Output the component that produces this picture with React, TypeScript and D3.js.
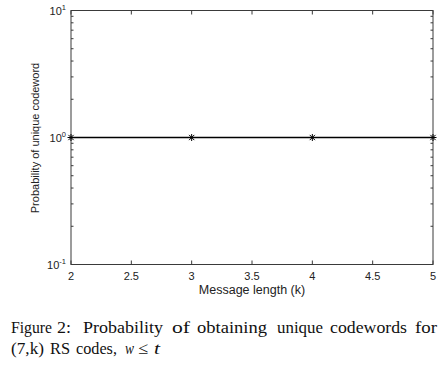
import React from "react";
import * as d3 from "d3";

// data
const messageLengths = [2, 3, 4, 5];
const probUnique = [1, 1, 1, 1];
const xTicks = [2, 2.5, 3, 3.5, 4, 4.5, 5];
const xTickLabels = ["2", "2.5", "3", "3.5", "4", "4.5", "5"];
const yDecades = [0.1, 1, 10];
const yDecadeExp = ["-1", "0", "1"];

// caption words, start x and width as laid out in the figure
const captionWords = ["Figure", "2:", "Probability", "of", "obtaining", "unique", "codewords", "for"];
const captionWordX = [11, 57, 83, 172, 197, 277, 330, 415];
const captionWordW = [41, 14, 80, 18, 70, 46, 77, 22];
const caption2Words = ["(7,k)", "RS", "codes,", "w", "≤", "t"];
const caption2X = [11, 50, 76, 125, 138, 154];
const caption2W = [33, 20, 41, 9, 10, 6];
const caption2Italic = [false, false, false, true, false, true];

const W = 447;
const H = 365;
const left = 71;
const right = 433;
const top = 10.5;
const bottom = 264.5;

export default function App() {
  const xScale = d3.scaleLinear().domain([2, 5]).range([left, right]);
  const yScale = d3.scaleLog().domain([0.1, 10]).range([bottom, top]);

  // minor log ticks
  const minor: number[] = [];
  [0.1, 1].forEach((base) => {
    for (let m = 2; m <= 9; m++) minor.push(base * m);
  });

  const line = d3
    .line<number>()
    .x((_, i) => xScale(messageLengths[i]))
    .y((d) => yScale(d));

  const axisColor = "#3a3a3a";
  const tl = 4;
  const s = 3.5;

  return (
    <svg
      width={W}
      height={H}
      style={{ position: "absolute", left: 0, top: 0, background: "#fff" }}
      fontFamily="'Liberation Sans', Arial, sans-serif"
    >
      {/* box */}
      <rect
        x={left}
        y={top}
        width={right - left}
        height={bottom - top}
        fill="none"
        stroke={axisColor}
        strokeWidth={1}
      />

      {/* x ticks (bottom + top, inward) */}
      {xTicks.map((t, i) => (
        <g key={"xt" + i}>
          <line x1={xScale(t)} x2={xScale(t)} y1={bottom} y2={bottom - tl} stroke={axisColor} />
          <line x1={xScale(t)} x2={xScale(t)} y1={top} y2={top + tl} stroke={axisColor} />
          <text
            x={xScale(t)}
            y={bottom + 15}
            fontSize={11}
            textAnchor="middle"
            fill="#222"
          >
            {xTickLabels[i]}
          </text>
        </g>
      ))}

      {/* y minor ticks */}
      {minor.map((m, i) => (
        <g key={"ym" + i}>
          <line x1={left} x2={left + 2.5} y1={yScale(m)} y2={yScale(m)} stroke={axisColor} />
          <line x1={right} x2={right - 2.5} y1={yScale(m)} y2={yScale(m)} stroke={axisColor} />
        </g>
      ))}

      {/* y decade ticks + labels */}
      {yDecades.map((d, i) => (
        <g key={"yd" + i}>
          <line x1={left} x2={left + tl} y1={yScale(d)} y2={yScale(d)} stroke={axisColor} />
          <line x1={right} x2={right - tl} y1={yScale(d)} y2={yScale(d)} stroke={axisColor} />
          <text x={left - 5} y={yScale(d) + 4} fontSize={11} textAnchor="end" fill="#222">
            10
            <tspan fontSize={7.5} dy={-5}>
              {yDecadeExp[i]}
            </tspan>
          </text>
        </g>
      ))}

      {/* data line */}
      <path d={line(probUnique) ?? ""} fill="none" stroke="#000" strokeWidth={1.3} />
      {probUnique.map((p, i) => {
        const cx = xScale(messageLengths[i]);
        const cy = yScale(p);
        return (
          <g key={"pt" + i} stroke="#000" strokeWidth={1}>
            <line x1={cx - s} x2={cx + s} y1={cy} y2={cy} />
            <line x1={cx} x2={cx} y1={cy - s} y2={cy + s} />
            <line x1={cx - s * 0.75} x2={cx + s * 0.75} y1={cy - s * 0.75} y2={cy + s * 0.75} />
            <line x1={cx - s * 0.75} x2={cx + s * 0.75} y1={cy + s * 0.75} y2={cy - s * 0.75} />
          </g>
        );
      })}

      {/* axis titles */}
      <text x={252} y={294} fontSize={12.5} textAnchor="middle" fill="#222">
        Message length (k)
      </text>
      <text
        transform={`translate(39, 138) rotate(-90)`}
        fontSize={11}
        textAnchor="middle"
        fill="#222"
      >
        Probability of unique codeword
      </text>

      {/* caption */}
      <g fontFamily="'Liberation Serif', 'Times New Roman', serif" fontSize={17} fill="#111">
        {captionWords.map((w, i) => (
          <text
            key={"cw" + i}
            x={captionWordX[i]}
            y={332.5}
            textLength={captionWordW[i]}
            lengthAdjust="spacingAndGlyphs"
          >
            {w}
          </text>
        ))}
        {caption2Words.map((w, i) => (
          <text
            key={"cw2" + i}
            x={caption2X[i]}
            y={354}
            fontStyle={caption2Italic[i] ? "italic" : "normal"}
            textLength={caption2W[i]}
            lengthAdjust="spacingAndGlyphs"
          >
            {w}
          </text>
        ))}
      </g>
    </svg>
  );
}
